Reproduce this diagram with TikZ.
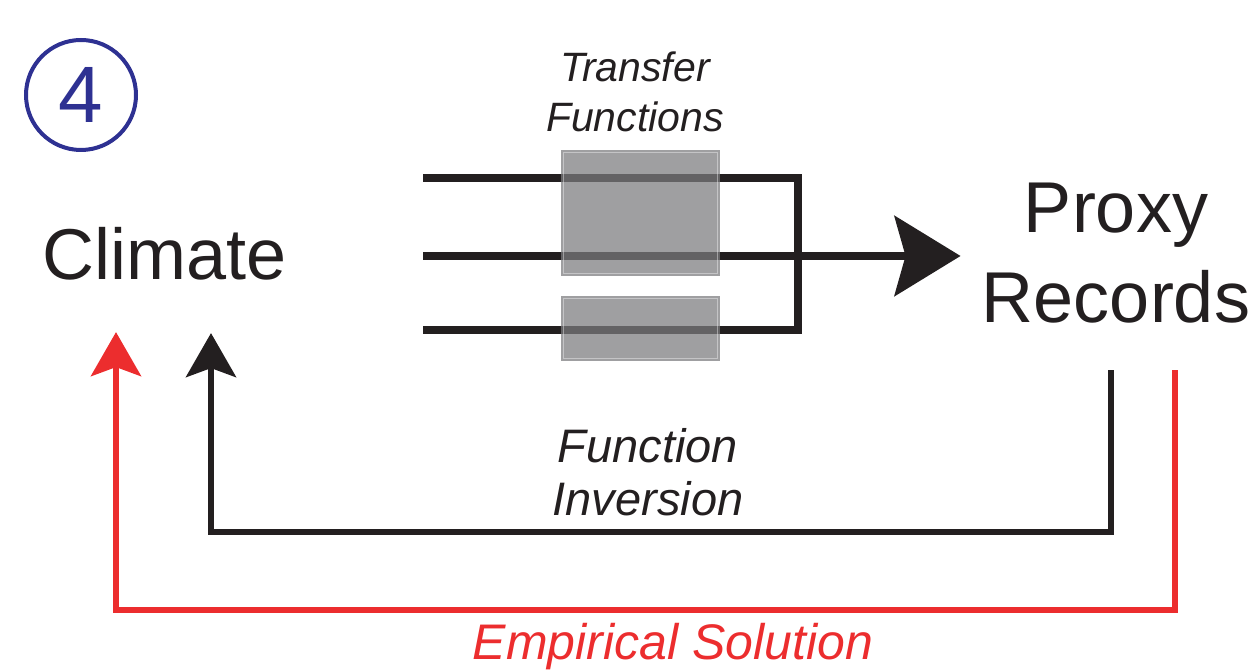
\documentclass[tikz,border=0pt]{standalone}
\usepackage{fontspec}
\setmainfont{Liberation Sans}
\usepackage{xcolor}
\usepackage{tikz}
\usetikzlibrary{arrows.meta,positioning,calc}

\definecolor{inkblack}{HTML}{231F20}
\definecolor{inkred}{HTML}{EC2D2E}
\definecolor{inkblue}{HTML}{2E3192}
\definecolor{boxgray}{RGB}{123,123,126}

\begin{document}
\begin{tikzpicture}[x=0.5pt, y=-0.5pt,
    feed/.style={draw=inkblack, line width=4pt},
    back/.style={draw=inkblack, line width=3pt, -{Stealth[length=22pt,width=25pt,inset=4.5pt]}},
    empirical/.style={back, draw=inkred, -{Stealth[length=22pt,width=25pt,inset=4.5pt,inkred]}},
    tfbox/.style={rectangle, fill=boxgray, fill opacity=0.73, minimum width=79.5pt, inner sep=0pt},
    boxedge/.style={draw=white, draw opacity=0.4, line width=0.5pt},
    big/.style={font=\fontsize{36}{45}\selectfont, text=inkblack, inner sep=0pt, align=center},
    note/.style={font=\fontsize{20.5}{25}\selectfont\itshape, text=inkblack, inner sep=0pt, align=center}]
    \useasboundingbox (0,0) rectangle (1257,672);

    \node (step4) [circle, draw=inkblue, line width=2pt, minimum size=55pt, inner sep=0pt, text=inkblue, font=\fontsize{40}{48}\selectfont] at (81,95) {4};
    \node (climate) [big, anchor=base] at (165,280) {Climate};
    \node (proxy) [big, anchor=north, inner xsep=10.5pt] at (1116,183) {Proxy\\Records};

    % three transfer lines joined into one arrow
    \coordinate (in1) at (423,178);
    \coordinate (in2) at (423,256);
    \coordinate (in3) at (423,330);
    \coordinate (join) at (798,256);
    \draw [feed] (in1) -| (join |- in3) -- (in3);
    \draw [feed, -{Stealth[length=33pt,width=40pt,inset=5.5pt]}] (in2) -- (proxy.west |- in2);

    \node (tf1) [tfbox, minimum height=63pt] at (640.5,213) {};
    \node (tf2) [tfbox, minimum height=32.5pt] at (640.5,328.5) {};
    \draw [boxedge] ([xshift=1.5pt,yshift=-1.5pt]tf1.north west) rectangle ([xshift=-1.5pt,yshift=1.5pt]tf1.south east);
    \draw [boxedge] ([xshift=1.5pt,yshift=-1.5pt]tf2.north west) rectangle ([xshift=-1.5pt,yshift=1.5pt]tf2.south east);
    \node (tflabel) [note, anchor=north] at (635,51) {Transfer\\Functions};

    % ways back to climate
    \draw [back] ([xshift=-2.5pt,yshift=-23pt]proxy.south) -- ++(0,162) -| ([xshift=23pt,yshift=-26pt]climate.south);
    \draw [empirical] ([xshift=29.5pt,yshift=-23pt]proxy.south) -- ++(0,240) -| ([xshift=-24.5pt,yshift=-25.5pt]climate.south);

    \node (filabel) [note, anchor=north, font=\fontsize{23.5}{26.5}\selectfont\itshape] at (648,428) {Function\\Inversion};
    \node (eslabel) [note, anchor=base, text=inkred, font=\fontsize{25}{30}\selectfont\itshape] at (673,660) {Empirical Solution};
\end{tikzpicture}
\end{document}
